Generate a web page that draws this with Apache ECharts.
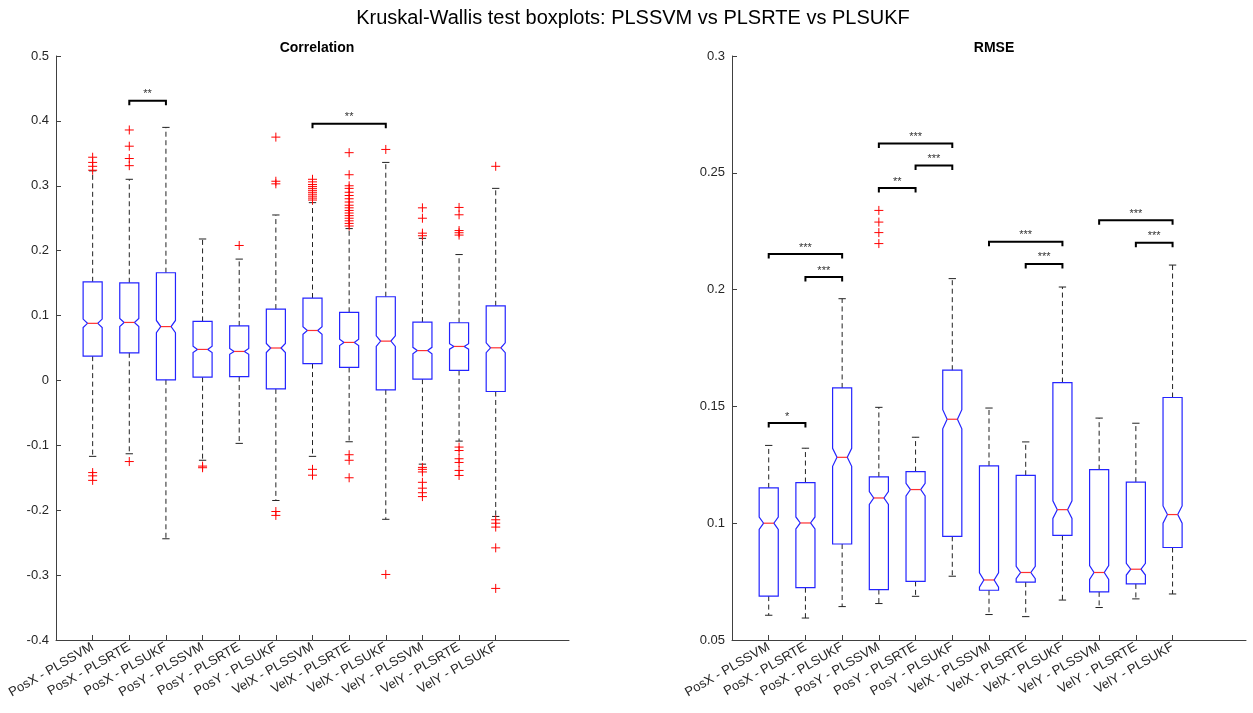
<!DOCTYPE html>
<html>
<head>
<meta charset="utf-8">
<script src="https://cdn.jsdelivr.net/npm/echarts@6/dist/echarts.min.js"></script>
<style>
  html, body { margin: 0; padding: 0; background: #fff; }
  #chart { width: 1253px; height: 713px; }
</style>
</head>
<body>
<div id="chart"></div>
<script>
// Groups compared by the Kruskal-Wallis test (x positions 1..12)
const categories = [
  'PosX - PLSSVM', 'PosX - PLSRTE', 'PosX - PLSUKF',
  'PosY - PLSSVM', 'PosY - PLSRTE', 'PosY - PLSUKF',
  'VelX - PLSSVM', 'VelX - PLSRTE', 'VelX - PLSUKF',
  'VelY - PLSSVM', 'VelY - PLSRTE', 'VelY - PLSUKF'
];

// Correlation: box statistics per group
const corrLowWhisker  = [-0.117, -0.113, -0.244, -0.123, -0.097, -0.185, -0.117, -0.0945, -0.214, -0.129, -0.0935, -0.2096];
const corrQ1          = [0.0375, 0.0426, 0.001, 0.005, 0.006, -0.013, 0.026, 0.020, -0.0144, 0.002, 0.0154, -0.017];
const corrMedian      = [0.088, 0.0894, 0.083, 0.0478, 0.0447, 0.050, 0.077, 0.0586, 0.0606, 0.046, 0.0524, 0.0503];
const corrQ3          = [0.152, 0.1505, 0.166, 0.091, 0.084, 0.110, 0.127, 0.105, 0.129, 0.0899, 0.0889, 0.115];
const corrHighWhisker = [0.323, 0.310, 0.390, 0.218, 0.187, 0.255, 0.274, 0.234, 0.336, 0.219, 0.194, 0.296];
const corrOutliers = [
  [0.344, 0.336, 0.330, 0.324, -0.142, -0.147, -0.154],
  [0.386, 0.361, 0.342, 0.331, -0.125],
  [],
  [-0.132, -0.1345],
  [0.208],
  [0.375, 0.307, 0.303, -0.202, -0.208],
  [0.278, 0.281, 0.284, 0.287, 0.290, 0.293, 0.296, 0.299, 0.302, 0.306, 0.310, -0.137, -0.146],
  [0.351, 0.317, 0.300, 0.296, 0.290, 0.285, 0.280, 0.275, 0.270, 0.266, 0.262, 0.258, 0.254, 0.250, 0.246, 0.242, 0.238, -0.1145, -0.123, -0.150],
  [0.356, -0.299],
  [0.266, 0.250, 0.227, 0.223, -0.134, -0.137, -0.141, -0.157, -0.166, -0.173, -0.179],
  [0.2666, 0.2553, 0.231, 0.2276, 0.224, -0.1027, -0.108, -0.1207, -0.1264, -0.1387, -0.1464],
  [0.330, -0.2147, -0.220, -0.226, -0.258, -0.3205]
];
// Significance brackets: [from group, to group, height, stars]
const corrBrackets = [
  [2, 3, 0.431, '**'],
  [7, 9, 0.3955, '**']
];

// RMSE: box statistics per group
const rmseLowWhisker  = [0.0606, 0.0594, 0.0643, 0.0656, 0.0687, 0.0773, 0.0609, 0.0600, 0.0671, 0.0639, 0.0676, 0.0697];
const rmseQ1          = [0.0688, 0.0724, 0.0911, 0.0716, 0.0751, 0.0944, 0.0713, 0.0748, 0.0948, 0.0706, 0.0740, 0.0896];
const rmseMedian      = [0.1000, 0.1001, 0.1282, 0.1108, 0.1144, 0.1445, 0.0757, 0.0789, 0.1058, 0.0789, 0.0803, 0.1037];
const rmseQ3          = [0.1151, 0.1174, 0.1579, 0.1198, 0.1221, 0.1655, 0.1245, 0.1205, 0.1602, 0.1229, 0.1176, 0.1538];
const rmseHighWhisker = [0.1333, 0.1321, 0.1961, 0.1496, 0.1368, 0.2047, 0.1493, 0.1348, 0.2011, 0.1450, 0.1428, 0.2105];
const rmseOutliers = [
  [], [], [],
  [0.2339, 0.2289, 0.2244, 0.2197],
  [], [], [], [], [], [], [], []
];
const rmseBrackets = [
  [1, 2, 0.1429, '*'],
  [2, 3, 0.2054, '***'],
  [1, 3, 0.2152, '***'],
  [4, 5, 0.2435, '**'],
  [5, 6, 0.2531, '***'],
  [4, 6, 0.2625, '***'],
  [8, 9, 0.2110, '***'],
  [7, 9, 0.2205, '***'],
  [11, 12, 0.2201, '***'],
  [10, 12, 0.2297, '***']
];

// Number of observations per group, used for the notch half-height
const sampleSize = 750;

const corrTicks = [-0.4, -0.3, -0.2, -0.1, 0, 0.1, 0.2, 0.3, 0.4, 0.5];
const rmseTicks = [0.05, 0.1, 0.15, 0.2, 0.25, 0.3];

const AXIS_COLOR = '#404040';
const LABEL_FONT = '"Liberation Sans", Arial, Helvetica, sans-serif';

function boxRows(lo, q1, med, q3, hi) {
  return categories.map((_, i) => {
    const notch = 1.57 * (q3[i] - q1[i]) / Math.sqrt(sampleSize);
    return [i + 1, lo[i], q1[i], med[i], q3[i], hi[i], notch];
  });
}
function outlierRows(list) {
  const rows = [];
  list.forEach((vals, i) => vals.forEach(v => rows.push([i + 1, v])));
  return rows;
}

function renderBox(params, api) {
  const x = api.value(0);
  const lo = api.value(1), q1 = api.value(2), med = api.value(3),
        q3 = api.value(4), hi = api.value(5), notch = api.value(6);
  const c = (xx, yy) => api.coord([xx, yy]);
  const hw = 0.26, nw = 0.14, cw = 0.1;
  const pts = [
    c(x - hw, q3), c(x + hw, q3), c(x + hw, med + notch), c(x + nw, med),
    c(x + hw, med - notch), c(x + hw, q1), c(x - hw, q1), c(x - hw, med - notch),
    c(x - nw, med), c(x - hw, med + notch)
  ];
  const dash = { stroke: '#222', lineWidth: 1, lineDash: [5, 3.5] };
  const solid = { stroke: '#222', lineWidth: 1 };
  const line = (a, b, style) => ({
    type: 'line', shape: { x1: a[0], y1: a[1], x2: b[0], y2: b[1] }, style: style
  });
  return {
    type: 'group',
    children: [
      line(c(x, q3), c(x, hi), dash),
      line(c(x, q1), c(x, lo), dash),
      line(c(x - cw, hi), c(x + cw, hi), solid),
      line(c(x - cw, lo), c(x + cw, lo), solid),
      { type: 'polygon', shape: { points: pts }, style: { fill: 'none', stroke: '#2424ff', lineWidth: 1.2 } },
      line(c(x - nw, med), c(x + nw, med), { stroke: '#ff3030', lineWidth: 1.2 })
    ]
  };
}

function renderOutlier(params, api) {
  const p = api.coord([api.value(0), api.value(1)]);
  const r = 4.5;
  const st = { stroke: '#ff0000', lineWidth: 1 };
  return {
    type: 'group',
    children: [
      { type: 'line', shape: { x1: p[0] - r, y1: p[1], x2: p[0] + r, y2: p[1] }, style: st },
      { type: 'line', shape: { x1: p[0], y1: p[1] - r, x2: p[0], y2: p[1] + r }, style: st }
    ]
  };
}

function renderBracket(params, api) {
  const a = api.coord([api.value(0), api.value(2)]);
  const b = api.coord([api.value(1), api.value(2)]);
  const leg = 4.5;
  const stars = api.value(3);
  return {
    type: 'group',
    children: [
      { type: 'polyline',
        shape: { points: [[a[0], a[1] + leg], [a[0], a[1]], [b[0], b[1]], [b[0], b[1] + leg]] },
        style: { stroke: '#000', lineWidth: 2, fill: 'none' } },
      { type: 'text',
        style: { text: stars, x: (a[0] + b[0]) / 2, y: a[1] - 1, align: 'center', verticalAlign: 'bottom',
                 fontSize: 11, fontFamily: LABEL_FONT, fill: '#333' } }
    ]
  };
}

function fmtTick(v) { return String(parseFloat(v.toFixed(3))); }

function xAxisFor(gridIndex) {
  return {
    type: 'value', gridIndex: gridIndex, min: 0, max: 14, interval: 1,
    axisLine: { onZero: false, lineStyle: { color: AXIS_COLOR, width: 1 } },
    axisTick: { inside: true, length: 5, lineStyle: { color: AXIS_COLOR },
                customValues: categories.map((_, i) => i + 1) },
    axisLabel: {
      customValues: categories.map((_, i) => i + 1),
      rotate: 30, fontSize: 13, color: '#262626', fontFamily: LABEL_FONT, margin: 6,
      formatter: v => categories[Math.round(v) - 1] || ''
    },
    splitLine: { show: false }
  };
}
function yAxisFor(gridIndex, ticks) {
  const step = parseFloat((ticks[1] - ticks[0]).toFixed(3));
  return {
    type: 'value', gridIndex: gridIndex, min: ticks[0], max: ticks[ticks.length - 1], interval: step,
    axisLine: { show: true, onZero: false, lineStyle: { color: AXIS_COLOR, width: 1 } },
    axisTick: { show: true, inside: true, length: 5, lineStyle: { color: AXIS_COLOR } },
    axisLabel: { fontSize: 13, color: '#262626', fontFamily: LABEL_FONT, margin: 7, formatter: fmtTick },
    splitLine: { show: false }
  };
}

const chart = echarts.init(document.getElementById('chart'), null, { renderer: 'canvas' });
chart.setOption({
  animation: false,
  backgroundColor: '#ffffff',
  title: [
    { text: 'Kruskal-Wallis test boxplots: PLSSVM vs PLSRTE vs PLSUKF', left: 628, top: 3, textAlign: 'center',
      textStyle: { fontSize: 20, fontWeight: 'normal', color: '#000', fontFamily: LABEL_FONT } },
    { text: 'Correlation', left: 312, top: 36, textAlign: 'center',
      textStyle: { fontSize: 14, fontWeight: 'bold', color: '#000', fontFamily: LABEL_FONT } },
    { text: 'RMSE', left: 989, top: 36, textAlign: 'center',
      textStyle: { fontSize: 14, fontWeight: 'bold', color: '#000', fontFamily: LABEL_FONT } }
  ],
  grid: [
    { left: 56, top: 56, width: 513, height: 584 },
    { left: 732, top: 56, width: 514, height: 584 }
  ],
  xAxis: [xAxisFor(0), xAxisFor(1)],
  yAxis: [yAxisFor(0, corrTicks), yAxisFor(1, rmseTicks)],
  series: [
    { type: 'custom', xAxisIndex: 0, yAxisIndex: 0, renderItem: renderBox,
      data: boxRows(corrLowWhisker, corrQ1, corrMedian, corrQ3, corrHighWhisker), clip: false },
    { type: 'custom', xAxisIndex: 0, yAxisIndex: 0, renderItem: renderOutlier,
      data: outlierRows(corrOutliers) },
    { type: 'custom', xAxisIndex: 0, yAxisIndex: 0, renderItem: renderBracket,
      data: corrBrackets },
    { type: 'custom', xAxisIndex: 1, yAxisIndex: 1, renderItem: renderBox,
      data: boxRows(rmseLowWhisker, rmseQ1, rmseMedian, rmseQ3, rmseHighWhisker), clip: false },
    { type: 'custom', xAxisIndex: 1, yAxisIndex: 1, renderItem: renderOutlier,
      data: outlierRows(rmseOutliers) },
    { type: 'custom', xAxisIndex: 1, yAxisIndex: 1, renderItem: renderBracket,
      data: rmseBrackets }
  ]
});
</script>
</body>
</html>
